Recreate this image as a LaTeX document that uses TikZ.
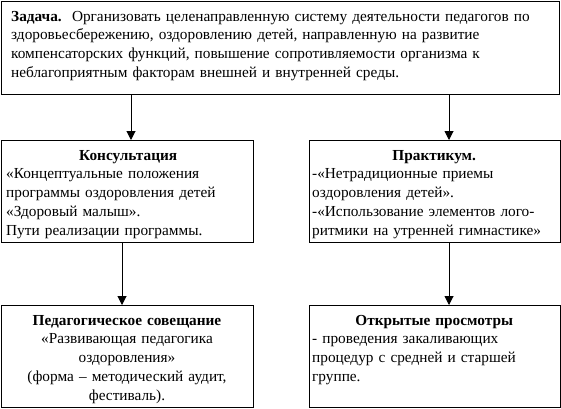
\documentclass[tikz,border=0pt]{standalone}
\usepackage{fontspec}
\setmainfont{Liberation Serif}
\usetikzlibrary{arrows.meta}
\begin{document}
\begin{tikzpicture}[x=1pt, y=-1pt,
    box/.style={draw, line width=1pt, inner sep=0pt, anchor=north west},
    txt/.style={inner sep=0pt, font=\fontsize{15.3}{18.8}\selectfont, align=left, text width=#1},
    arr/.style={line width=1pt, -{Triangle[width=9pt,length=9pt]}}]
    \useasboundingbox (0,0) rectangle (561,408);
    % boxes
    \node[box, minimum width=558pt, minimum height=93pt] (task) at (1,1) {};
    \node[box, minimum width=252pt, minimum height=102pt] (consult) at (1,140) {};
    \node[box, minimum width=251pt, minimum height=102pt] (practice) at (309,140) {};
    \node[box, minimum width=252pt, minimum height=102pt] (meeting) at (1,305) {};
    \node[box, minimum width=251pt, minimum height=102pt] (shows) at (309,305) {};
    % texts
    \node[txt=545pt, anchor=base west] (tasktext) at (11,21)
        {\textbf{Задача.}\ \ Организовать целенаправленную систему деятельности педагогов по\\
         здоровьесбережению, оздоровлению детей, направленную на развитие\\
         компенсаторских функций, повышение сопротивляемости организма к\\
         неблагоприятным факторам внешней и внутренней среды.};
    \node[txt=244pt, anchor=base west] (consulttext) at (6,160)
        {\makebox[\hsize]{\textbf{Консультация}}\\
         «Концептуальные положения\\
         программы оздоровления детей\\
         «Здоровый малыш».\\
         Пути реализации программы.};
    \node[txt=244pt, anchor=base west] (practicetext) at (312,160)
        {\makebox[\hsize]{\textbf{Практикум.}}\\
         -«Нетрадиционные приемы\\
         оздоровления детей».\\
         -«Использование элементов лого-\\
         ритмики на утренней гимнастике»};
    \node[txt=244pt, anchor=base, align=center] (meetingtext) at (127,325)
        {\textbf{Педагогическое совещание}\\
         «Развивающая педагогика\\
         оздоровления»\\
         (форма – методический аудит,\\
         фестиваль).};
    \node[txt=244pt, anchor=base west] (showstext) at (312,325)
        {\makebox[\hsize]{\textbf{Открытые просмотры}}\\
         - проведения закаливающих\\
         процедур с средней и старшей\\
         группе.};
    % arrows
    \draw[arr] ([xshift=130pt]task.south west) -- ([xshift=130pt]consult.north west);
    \draw[arr] ([xshift=448pt]task.south west) -- ([xshift=140pt]practice.north west);
    \draw[arr] ([xshift=121pt]consult.south west) -- ([xshift=121pt]meeting.north west);
    \draw[arr] ([xshift=140pt]practice.south west) -- ([xshift=140pt]shows.north west);
\end{tikzpicture}
\end{document}
